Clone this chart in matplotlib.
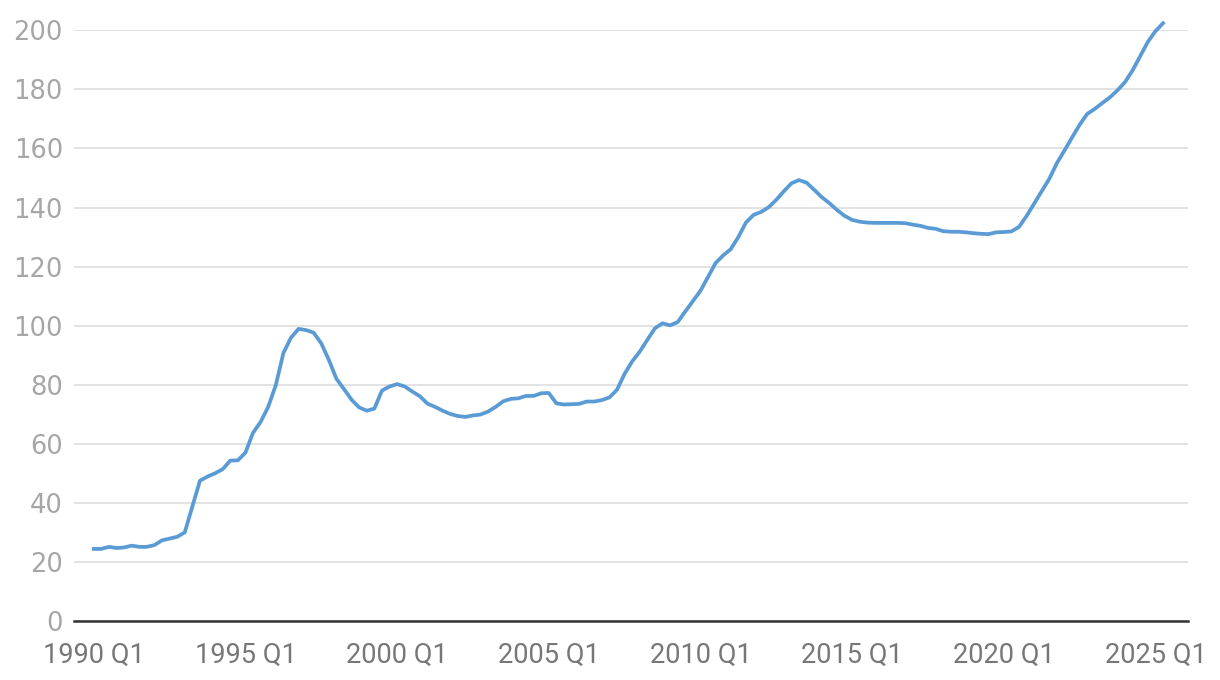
import matplotlib.pyplot as plt
import numpy as np

# quarterly index, 1990 Q1 .. 2025 Q2
start_year = 1990
values = [
    24.4, 24.4, 25.1, 24.7, 24.9, 25.5, 25.1, 25.1, 25.7, 27.3,
    27.9, 28.5, 30.0, 38.8, 47.5, 48.9, 50.0, 51.4, 54.3, 54.4,
    57.0, 63.7, 67.4, 72.5, 79.8, 90.7, 95.9, 98.9, 98.5, 97.6,
    94.0, 88.4, 82.0, 78.5, 74.9, 72.3, 71.2, 71.9, 78.0, 79.4,
    80.2, 79.4, 77.7, 76.1, 73.6, 72.5, 71.2, 70.1, 69.4, 69.1,
    69.6, 69.9, 70.9, 72.5, 74.4, 75.2, 75.4, 76.2, 76.2, 77.1,
    77.2, 73.7, 73.3, 73.4, 73.5, 74.3, 74.3, 74.8, 75.7, 78.3,
    83.7, 87.9, 91.2, 95.2, 99.1, 100.8, 100.1, 101.2, 104.8, 108.3,
    111.8, 116.5, 121.2, 123.8, 125.9, 130.0, 134.9, 137.5, 138.5, 140.1,
    142.6, 145.5, 148.2, 149.3, 148.4, 146.0, 143.5, 141.5, 139.2, 137.2,
    135.8, 135.2, 134.9, 134.8, 134.8, 134.8, 134.8, 134.7, 134.2, 133.8,
    133.1, 132.8, 132.0, 131.8, 131.8, 131.6, 131.3, 131.1, 131.0, 131.6,
    131.7, 131.9, 133.4, 137.1, 141.3, 145.5, 149.7, 155.0, 159.3, 163.7,
    168.0, 171.7, 173.4, 175.4, 177.3, 179.7, 182.5, 186.5, 191.3, 196.1,
    199.7, 202.4,
]
quarters = [f"{start_year + i // 4} Q{i % 4 + 1}" for i in range(len(values))]
tick_labels = ["1990 Q1", "1995 Q1", "2000 Q1", "2005 Q1",
               "2010 Q1", "2015 Q1", "2020 Q1", "2025 Q1"]
y_ticks = [0, 20, 40, 60, 80, 100, 120, 140, 160, 180, 200]

fig = plt.figure(figsize=(12.2, 6.8), dpi=100)
ax = fig.add_axes([0.0607, 0.0868, 0.9131, 0.8686])

x = np.arange(len(values))
ax.plot(x, values, color="#5b9bd5", lw=2.7, solid_joinstyle="round",
        clip_on=False, zorder=3)

ax.set_xlim(-2.6, len(values) - 1 + 3.3)
ax.set_ylim(0, 200)

ax.set_yticks(y_ticks)
ax.set_yticklabels([str(v) for v in y_ticks], fontsize=18.5, color="#a6a6a6",
                   family="DejaVu Sans")
ax.set_xticks([quarters.index(t) for t in tick_labels])
ax.set_xticklabels(tick_labels, fontsize=19.5, color="#777777", family="Roboto")

ax.tick_params(axis="both", length=0)
ax.tick_params(axis="y", pad=8)
ax.tick_params(axis="x", pad=15)

ax.grid(axis="y", color="#e3e3e3", lw=1.4)
ax.set_axisbelow(True)
for side in ["top", "right", "left"]:
    ax.spines[side].set_visible(False)
ax.spines["bottom"].set_color("#333333")
ax.spines["bottom"].set_linewidth(1.8)
ax.spines["bottom"].set_zorder(4)

fig.savefig("out.png", dpi=100)
